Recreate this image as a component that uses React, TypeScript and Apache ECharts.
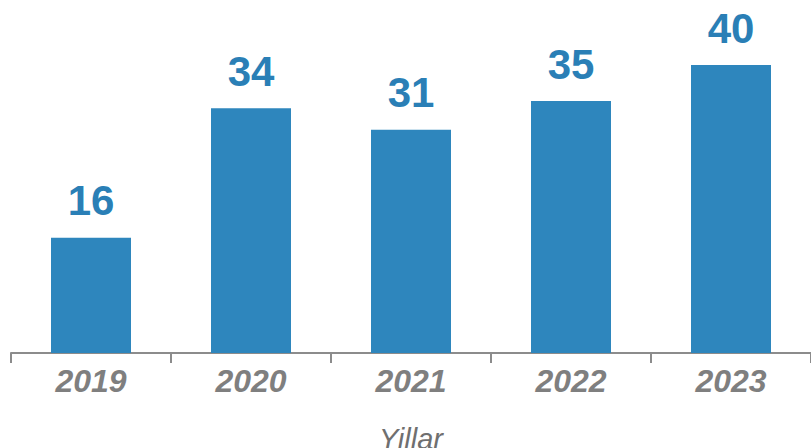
import React, { useEffect, useRef } from "react";
import * as echarts from "echarts";

const categories = ["2019", "2020", "2021", "2022", "2023"];
const values = [16, 34, 31, 35, 40];
const axisName = "Yillar";

export default function App() {
  const ref = useRef<HTMLDivElement>(null);
  useEffect(() => {
    const chart = echarts.init(ref.current!, null, { renderer: "svg" });
    chart.setOption({
      animation: false,
      grid: { left: 11, right: 0, top: 65, bottom: 95, containLabel: false, outerBoundsMode: "none" },
      xAxis: {
        type: "category",
        data: categories,
        name: axisName,
        nameLocation: "middle",
        nameGap: 71,
        nameTextStyle: { fontFamily: "Liberation Sans, Arial, sans-serif", fontSize: 29, fontStyle: "italic", color: "#6f6f6f" },
        axisLine: { show: true, lineStyle: { color: "#8c8c8c", width: 2 } },
        axisTick: { show: true, length: 10, lineStyle: { color: "#8c8c8c", width: 2 } },
        axisLabel: {
          fontFamily: "Liberation Sans, Arial, sans-serif",
          fontSize: 32,
          fontWeight: "bold",
          fontStyle: "italic",
          color: "#7f7f7f",
          margin: 12,
        },
      },
      yAxis: {
        type: "value",
        min: 0,
        max: 40,
        show: false,
        splitLine: { show: false },
      },
      series: [
        {
          type: "bar",
          data: values,
          barWidth: 80,
          itemStyle: { color: "#2e86bd" },
          label: {
            show: true,
            position: "top",
            distance: 16,
            fontFamily: "Liberation Sans, Arial, sans-serif",
            fontSize: 42,
            fontWeight: "bold",
            color: "#2a7fb6",
          },
        },
      ],
    });
    return () => chart.dispose();
  }, []);
  return <div ref={ref} style={{ width: 811, height: 448, position: "absolute", left: 0, top: 0 }} />;
}
